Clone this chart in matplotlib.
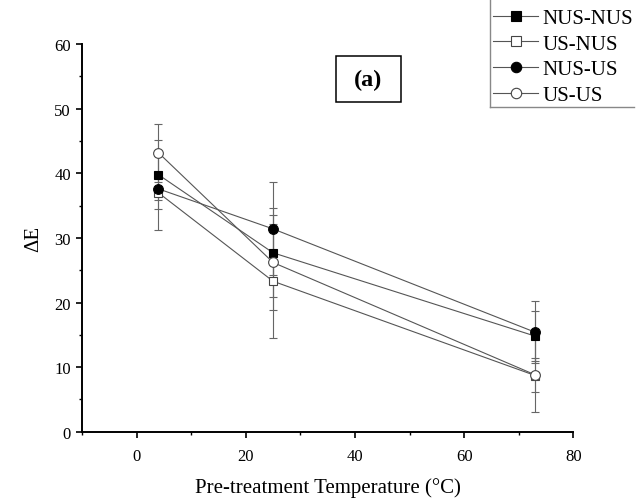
"""
Colour change vs. pre-treatment temperature, panel (a).
"""

import matplotlib.pyplot as plt
from matplotlib.lines import Line2D
from matplotlib.patches import Rectangle
from matplotlib.ticker import MultipleLocator

plt.rcParams["font.family"] = ["Liberation Serif", "DejaVu Serif"]

temps = [4, 25, 73]

series = ["NUS-NUS", "US-NUS", "NUS-US", "US-US"]
markers = ["s", "s", "o", "o"]
filled = [True, False, True, False]

dE = {
    "NUS-NUS": [39.8, 27.7, 14.8],
    "US-NUS": [37.0, 23.3, 8.7],
    "NUS-US": [37.6, 31.4, 15.4],
    "US-US": [43.2, 26.2, 8.8],
}
dE_err = {
    "NUS-NUS": [5.3, 6.9, 3.9],
    "US-NUS": [5.7, 8.8, 5.6],
    "NUS-US": [1.8, 7.2, 4.8],
    "US-US": [4.5, 7.4, 2.6],
}

fig = plt.figure(figsize=(6.4, 5.02), dpi=100)
ax = fig.add_axes([0.128, 0.138, 0.768, 0.772])

line_col = "#555555"


def marker_style(mk, fill, size_o=7, size_s=6):
    return dict(
        marker=mk,
        markersize=size_o if mk == "o" else size_s,
        markerfacecolor="black" if fill else "white",
        markeredgecolor="black" if fill else "#444444",
        markeredgewidth=0.8,
    )


for name, mk, fill in zip(series, markers, filled):
    ax.errorbar(
        temps,
        dE[name],
        yerr=dE_err[name],
        color=line_col,
        lw=0.8,
        elinewidth=0.8,
        ecolor="#666666",
        capsize=3.1,
        capthick=0.8,
        label=name,
        **marker_style(mk, fill),
    )

ax.set_xlim(-10, 80)
ax.set_ylim(0, 60)
ax.xaxis.set_major_locator(MultipleLocator(20))
ax.xaxis.set_minor_locator(MultipleLocator(10))
ax.yaxis.set_major_locator(MultipleLocator(10))
ax.yaxis.set_minor_locator(MultipleLocator(5))
ax.spines["top"].set_visible(False)
ax.spines["right"].set_visible(False)
ax.spines["left"].set_linewidth(1.4)
ax.spines["bottom"].set_linewidth(1.4)
ax.tick_params(which="major", direction="out", length=4.5, width=1.2, labelsize=12)
ax.tick_params(which="minor", direction="out", length=2.5, width=1.0)
ax.tick_params(axis="x", pad=7)
ax.tick_params(axis="y", pad=3.5)

ax.set_xlabel("Pre-treatment Temperature (°C)", fontsize=15, labelpad=10)
ax.set_ylabel("ΔE", fontsize=15, labelpad=8)

# "(a)" panel tag
ax.add_patch(Rectangle((0.517, 0.850), 0.132, 0.120, transform=ax.transAxes,
                       fc="white", ec="black", lw=1.1, zorder=5))
ax.text(0.583, 0.908, "(a)", transform=ax.transAxes, fontsize=17.5,
        fontweight="bold", ha="center", va="center", zorder=6)

# legend without top/right border
handles = [
    Line2D([], [], color=line_col, lw=0.8, **marker_style(mk, fill, 7.5, 6.5))
    for mk, fill in zip(markers, filled)
]
fig.legend(
    handles, series,
    loc="upper left",
    bbox_to_anchor=(0.770, 0.981),
    frameon=False,
    fontsize=15,
    borderaxespad=0,
    borderpad=0,
    handlelength=2.19,
    handletextpad=0.2,
    labelspacing=0.29,
)
fig.add_artist(Line2D([0.7656, 0.7656], [0.785, 1.0], color="#888888", lw=1.0))
fig.add_artist(Line2D([0.7656, 0.9906], [0.785, 0.785], color="#888888", lw=1.0))

plt.savefig("out.png", dpi=100)
plt.close()
